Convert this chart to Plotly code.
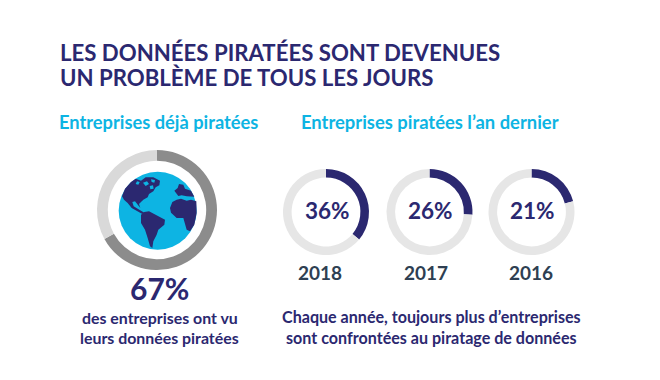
import plotly.graph_objects as go

W, H = 660, 380
NAVY, CYAN, SLATE = "#2b2870", "#0db4e3", "#2e3f52"
FONT = "Lato"

title_lines = ["LES DONNÉES PIRATÉES SONT DEVENUES", "UN PROBLÈME DE TOUS LES JOURS"]
left_heading = "Entreprises déjà piratées"
right_heading = "Entreprises piratées l’an dernier"
years = ["2018", "2017", "2016"]
yearly_shares = [36, 26, 21]
overall_share = 67
left_caption = ["des entreprises ont vu", "leurs données piratées"]
right_caption = ["Chaque année, toujours plus d’entreprises", "sont confrontées au piratage de données"]

north_america = [(48,42),(62,32),(78,38),(92,28),(115,28),(135,38),(133,52),(122,58),(115,70),(102,78),(98,88),(85,95),(78,102),(72,108),(76,120),(66,106),(60,100),(52,102),(56,115),(68,122),(80,130),(88,134),(82,138),(66,130),(50,120),(38,105),(27,95),(21,85),(30,62)]
south_america = [(78,140),(88,132),(102,130),(120,140),(135,148),(150,155),(148,170),(130,185),(125,200),(115,220),(112,240),(105,235),(98,210),(90,185),(78,165)]
africa = [(165,120),(172,102),(185,95),(198,92),(215,98),(228,95),(244,100),(245,135),(238,170),(225,190),(215,185),(210,165),(205,150),(185,150),(168,134)]
europe = [(178,68),(188,60),(192,48),(205,50),(210,62),(228,68),(238,86),(215,85),(200,82),(190,84)]
land = [north_america, south_america, africa, europe]
water = [[(84,44),(96,40),(102,48),(92,54)], [(104,54),(114,52),(116,62),(106,64)], [(108,34),(120,36),(118,44),(110,42)], [(66,40),(74,42),(70,50),(62,48)]]

def dom(cx, cy, r):
    return dict(x=[(cx - r) / W, (cx + r) / W], y=[1 - (cy + r) / H, 1 - (cy - r) / H])

fig = go.Figure()

fig.add_trace(go.Pie(values=[overall_share, 100 - overall_share], hole=0.82, sort=False,
                     direction="clockwise", rotation=0, textinfo="none", hoverinfo="skip",
                     marker=dict(colors=["#8c8c8c", "#d9d9d9"], line=dict(width=0)),
                     domain=dom(157, 210, 60), showlegend=False))

for share, cx in zip(yearly_shares, [326, 429.5, 531.5]):
    fig.add_trace(go.Pie(values=[share, 100 - share], hole=0.8, sort=False,
                         direction="clockwise", rotation=0, textinfo="none", hoverinfo="skip",
                         marker=dict(colors=[NAVY, "#e6e6e6"], line=dict(width=0)),
                         domain=dom(cx, 212, 43), showlegend=False))

for polys, color in ((land, NAVY), (water, CYAN)):
    for poly in polys:
        fig.add_trace(go.Scatter(x=[p[0] for p in poly] + [poly[0][0]],
                                 y=[p[1] for p in poly] + [poly[0][1]],
                                 mode="lines", fill="toself", fillcolor=color,
                                 line=dict(width=0, color=color), hoverinfo="skip", showlegend=False))

def note(text, x, y, size, color, anchor="center", bold=False):
    fig.add_annotation(text=f"<b>{text}</b>" if bold else text, x=x / W, y=1 - y / H,
                       xref="paper", yref="paper", xanchor=anchor, yanchor="middle",
                       showarrow=False, font=dict(family=FONT, size=size, color=color))

note(title_lines[0], 57.5, 52.5, 22.2, NAVY, "left", True)
note(title_lines[1], 57.5, 77.5, 22.2, NAVY, "left", True)
note(left_heading, 57, 122, 18.3, CYAN, "left", True)
note(right_heading, 299, 122, 18.4, CYAN, "left", True)
for share, year, cx, yx in zip(yearly_shares, years, [326, 429.5, 531.5], [319.5, 426, 531]):
    note(f"{share}%", cx + 1, 210, 22.5, NAVY, bold=True)
    note(year, yx, 272, 19, SLATE, bold=True)
note(f"{overall_share}%", 159, 288, 30, NAVY, bold=True)
note(left_caption[0], 159.5, 317, 15.9, NAVY, bold=True)
note(left_caption[1], 159.5, 337, 15.9, NAVY, bold=True)
note(right_caption[0], 431, 316, 16.1, NAVY, bold=True)
note(right_caption[1], 431, 337, 16.1, NAVY, bold=True)

gx0, gy0 = 115, 168
fig.update_layout(
    width=W, height=H, margin=dict(l=0, r=0, t=0, b=0),
    paper_bgcolor="white", plot_bgcolor="rgba(0,0,0,0)",
    xaxis=dict(visible=False, range=[0, 255], domain=[gx0 / W, (gx0 + 85) / W], fixedrange=True),
    yaxis=dict(visible=False, range=[255, 0], domain=[1 - (gy0 + 85) / H, 1 - gy0 / H], fixedrange=True),
    shapes=[dict(type="circle", xref="x", yref="y", x0=11, x1=245, y0=11, y1=245,
                 fillcolor=CYAN, line=dict(width=0), layer="below")],
)
fig.write_html("out.html", config=dict(displayModeBar=False),
               post_script="document.body.style.margin='0';document.body.style.overflow='hidden';")
